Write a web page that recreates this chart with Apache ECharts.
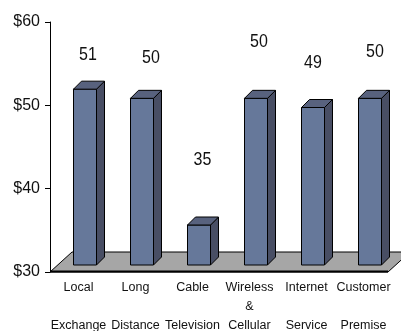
<!DOCTYPE html>
<html>
<head>
<meta charset="utf-8">
<script src="https://cdn.jsdelivr.net/npm/echarts@6/dist/echarts.min.js"></script>
<style>
  html, body { margin: 0; padding: 0; background: #fff; }
  #chart { width: 401px; height: 331px; }
</style>
</head>
<body>
<div id="chart"></div>
<script>
// data
var categories = ['Local\n\nExchange', 'Long\n\nDistance', 'Cable\n\nTelevision',
                  'Wireless\n&\nCellular', 'Internet\n\nService', 'Customer\n\nPremise'];
var values = [51.1, 50.0, 34.8, 50.0, 48.9, 50.0];
var yTicks = [30, 40, 50, 60];

// where each value label sits relative to its bar (pixels)
var labelDx = [9.5, 15.5, 10, 9.5, 6.5, 11.5];
var labelDy = [-34, -40, -65, -56, -44, -46];

var FONT = '"Liberation Sans", Arial, sans-serif';

var myChart = echarts.init(document.getElementById('chart'));

var DEPTH_X = 8, DEPTH_Y = 8, FRONT_W = 23, SHIFT = 7;

function renderBar(params, api) {
    var i = api.value(0);
    var v = api.value(1);
    var top = api.coord([i, v]);
    var base = api.coord([i, yTicks[0]]);
    var x0 = top[0] - 5;
    var y0 = top[1] - SHIFT;
    var y1 = base[1] - SHIFT;
    var x1 = x0 + FRONT_W;
    var line = { stroke: '#000', lineWidth: 1 };
    return {
        type: 'group',
        children: [
            { type: 'rect', shape: { x: x0, y: y0, width: FRONT_W, height: y1 - y0 },
              style: Object.assign({ fill: '#66789a' }, line) },
            { type: 'polygon', shape: { points: [[x1, y0], [x1 + DEPTH_X, y0 - DEPTH_Y], [x1 + DEPTH_X, y1 - DEPTH_Y], [x1, y1]] },
              style: Object.assign({ fill: '#484e64' }, line) },
            { type: 'polygon', shape: { points: [[x0, y0], [x0 + DEPTH_X, y0 - DEPTH_Y], [x1 + DEPTH_X, y0 - DEPTH_Y], [x1, y0]] },
              style: Object.assign({ fill: '#58627e' }, line) },
            { type: 'text', x: top[0] + labelDx[i], y: y0 + labelDy[i], scaleY: 1.12,
              style: { text: String(Math.round(v)), fill: '#111', font: '16px ' + FONT,
                       align: 'center', verticalAlign: 'middle' } }
        ]
    };
}

function renderFloor(params, api) {
    var cs = params.coordSys;
    var yb = cs.y + cs.height;
    var xr = cs.x + cs.width - 4;
    return {
        type: 'group',
        children: [
            { type: 'polygon',
              shape: { points: [[cs.x, yb], [cs.x + 22, yb - 20], [xr + 22, yb - 20], [xr, yb]] },
              style: { fill: '#a6a6a6', stroke: '#000', lineWidth: 1 } },
            { type: 'line', shape: { x1: cs.x, y1: yb - 0.5, x2: xr, y2: yb - 0.5 },
              style: { stroke: '#000', lineWidth: 2 } }
        ]
    };
}

var option = {
    animation: false,
    grid: { left: 50, right: 9, top: 22, bottom: 59, outerBoundsMode: 'none', containLabel: false },
    xAxis: {
        type: 'category',
        data: categories,
        axisLine: { show: false },
        axisTick: { show: false },
        axisLabel: {
            color: '#111', fontSize: 12.5, fontFamily: FONT,
            lineHeight: 19, margin: 6, interval: 0
        }
    },
    yAxis: {
        type: 'value',
        min: 30, max: 60, interval: 10,
        splitLine: { show: false },
        axisLine: { show: true, lineStyle: { color: '#000', width: 1 } },
        axisTick: { show: true, length: 5, lineStyle: { color: '#000' } },
        axisLabel: {
            color: '#111', fontSize: 16, fontFamily: FONT,
            margin: 10,
            formatter: function (v) { return '$' + v; }
        }
    },
    series: [
        {
            type: 'custom',
            renderItem: renderFloor,
            data: [[0, yTicks[0]]],
            z: 1,
            silent: true
        },
        {
            type: 'custom',
            renderItem: renderBar,
            data: values.map(function (v, i) { return [i, v]; }),
            z: 2
        }
    ]
};

myChart.setOption(option);
</script>
</body>
</html>
